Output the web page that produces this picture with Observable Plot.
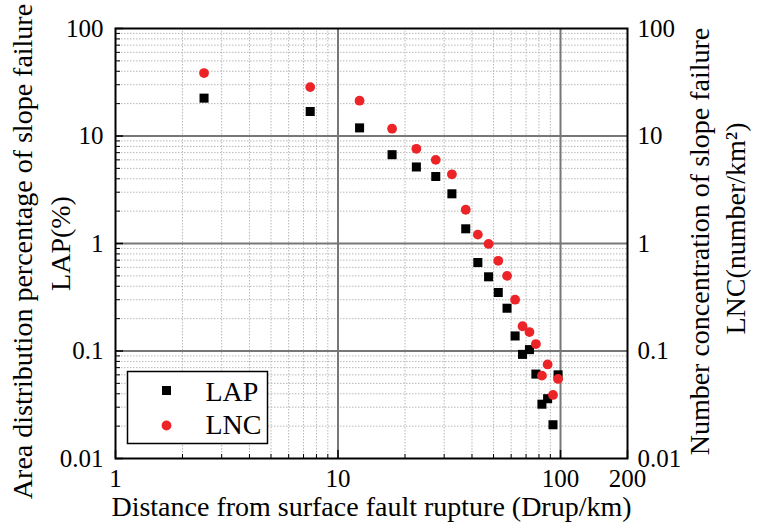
<!DOCTYPE html>
<html><head><meta charset="utf-8">
<script src="https://cdn.jsdelivr.net/npm/d3@7"></script>
<script src="https://cdn.jsdelivr.net/npm/@observablehq/plot@0.6"></script>
<style>html,body{margin:0;padding:0;background:#fff;} svg text{font-family:'Liberation Serif','Times New Roman',serif;}</style>
</head><body><div id="chart"></div>
<script>
// Data: distance bins (km) and values
const distance = [2.5, 7.5, 12.5, 17.5, 22.5, 27.5, 32.5, 37.5, 42.5, 47.5, 52.5, 57.5, 62.5, 67.5, 72.5, 77.5, 82.5, 87.5, 92.5, 97.5];
const lap = [22.5, 16.9, 11.9, 6.7, 5.15, 4.2, 2.9, 1.37, 0.665, 0.49, 0.35, 0.25, 0.138, 0.093, 0.103, 0.061, 0.032, 0.036, 0.0206, 0.06];
const lnc = [38.5, 28.5, 21.3, 11.7, 7.6, 6.0, 4.4, 2.06, 1.21, 0.99, 0.69, 0.50, 0.30, 0.17, 0.15, 0.116, 0.059, 0.075, 0.039, 0.055];

const xTicks = [1, 10, 100, 200];
const yTicks = [0.01, 0.1, 1, 10, 100];
const xMajorGrid = [10, 100];
const yMajorGrid = [0.1, 1, 10];
const xMinor = [2, 3, 4, 5, 6, 7, 8, 9, 20, 30, 40, 50, 60, 70, 80, 90];
const yMinor = [0.02, 0.03, 0.04, 0.05, 0.06, 0.07, 0.08, 0.09,
                0.2, 0.3, 0.4, 0.5, 0.6, 0.7, 0.8, 0.9,
                2, 3, 4, 5, 6, 7, 8, 9,
                20, 30, 40, 50, 60, 70, 80, 90];

const xTitle = "Distance from surface fault rupture (Drup/km)";
const yTitle1 = "Area distribution percentage of slope failure";
const yTitle2 = "LAP(%)";
const y2Title1 = "Number concentration of slope failure";
const y2Title2 = "LNC(number/km\u00B2)";
const seriesNames = ["LAP", "LNC"];

const FONT = "Liberation Serif";
const RED = "#ec2327";

const lapData = distance.map((d, i) => ({d, v: lap[i]}));
const lncData = distance.map((d, i) => ({d, v: lnc[i]}));
const fmt = d => `${d}`;
const T = {fontFamily: FONT, fill: "black", fontSize: 28};

const plot = Plot.plot({
  width: 758, height: 526,
  marginLeft: 115, marginRight: 131, marginTop: 28, marginBottom: 68,
  style: {fontFamily: FONT, background: "white", overflow: "visible", color: "black"},
  x: {type: "log", domain: [1, 200]},
  y: {type: "log", domain: [0.01, 100]},
  marks: [
    // minor dotted grid
    Plot.ruleX(xMinor, {stroke: "#b8b8b8", strokeDasharray: "1.5,1.5", strokeWidth: 1}),
    Plot.ruleY(yMinor, {stroke: "#b8b8b8", strokeDasharray: "1.5,1.5", strokeWidth: 1}),
    // major grid
    Plot.ruleX(xMajorGrid, {stroke: "#777", strokeWidth: 2}),
    Plot.ruleY(yMajorGrid, {stroke: "#777", strokeWidth: 2}),
    // inward ticks
    Plot.axisY({anchor: "left", ticks: yMinor, tickSize: 5, dx: 5, fill: "none", label: null}),
    Plot.axisY({anchor: "left", ticks: yTicks, tickSize: 8, dx: 8, fill: "none", label: null, strokeWidth: 1.5}),
    Plot.axisX({anchor: "bottom", ticks: xMinor, tickSize: 4, dy: -4, fill: "none", label: null}),
    Plot.axisX({anchor: "bottom", ticks: xTicks, tickSize: 8, dy: -8, fill: "none", label: null, strokeWidth: 1.5}),
    // tick labels
    Plot.axisY({anchor: "left", ticks: yTicks, tickSize: 0, tickPadding: 12, tickFormat: fmt, fontSize: 25, fontFamily: FONT, fontVariant: "normal", label: null}),
    Plot.axisY({anchor: "right", ticks: yTicks, tickSize: 0, tickPadding: 10, tickFormat: fmt, fontSize: 25, fontFamily: FONT, fontVariant: "normal", label: null}),
    Plot.axisX({anchor: "bottom", ticks: xTicks, tickSize: 0, tickPadding: 11, tickFormat: fmt, fontSize: 25, fontFamily: FONT, fontVariant: "normal", label: null}),
    // data
    Plot.dot(lapData, {x: "d", y: "v", symbol: "square", fill: "black", stroke: "none", r: 5.1}),
    Plot.dot(lncData, {x: "d", y: "v", symbol: "circle", fill: RED, stroke: "none", r: 4.9}),
    // frame
    Plot.frame({stroke: "black", strokeWidth: 2}),
    // legend
    Plot.frame({insetLeft: 12, insetTop: 343, insetRight: 360, insetBottom: 15, fill: "white", stroke: "black", strokeWidth: 1.5}),
    Plot.dot([seriesNames[0]], {frameAnchor: "bottom-left", dx: 51, dy: -68, symbol: "square", fill: "black", stroke: "none", r: 5.1}),
    Plot.dot([seriesNames[1]], {frameAnchor: "bottom-left", dx: 51, dy: -33, symbol: "circle", fill: RED, stroke: "none", r: 4.9}),
    Plot.text([seriesNames[0]], {...T, text: d => d, frameAnchor: "bottom-left", dx: 90, dy: -58, textAnchor: "start", lineAnchor: "bottom"}),
    Plot.text([seriesNames[1]], {...T, text: d => d, frameAnchor: "bottom-left", dx: 90, dy: -25, textAnchor: "start", lineAnchor: "bottom"}),
    // titles
    Plot.text([xTitle], {...T, text: d => d, frameAnchor: "bottom", dx: 0, dy: 57, textAnchor: "middle", lineAnchor: "bottom"}),
    Plot.text([yTitle1], {...T, text: d => d, frameAnchor: "left", dx: -92, dy: 8, rotate: -90, textAnchor: "middle", lineAnchor: "middle"}),
    Plot.text([yTitle2], {...T, text: d => d, frameAnchor: "left", dx: -54, dy: 0, rotate: -90, textAnchor: "middle", lineAnchor: "middle"}),
    Plot.text([y2Title1], {...T, text: d => d, frameAnchor: "right", dx: 73, dy: -2, rotate: -90, textAnchor: "middle", lineAnchor: "middle"}),
    Plot.text([y2Title2], {...T, text: d => d, frameAnchor: "right", dx: 109, dy: -15, rotate: -90, textAnchor: "middle", lineAnchor: "middle"})
  ]
});
document.getElementById("chart").appendChild(plot);
</script>
</body></html>
